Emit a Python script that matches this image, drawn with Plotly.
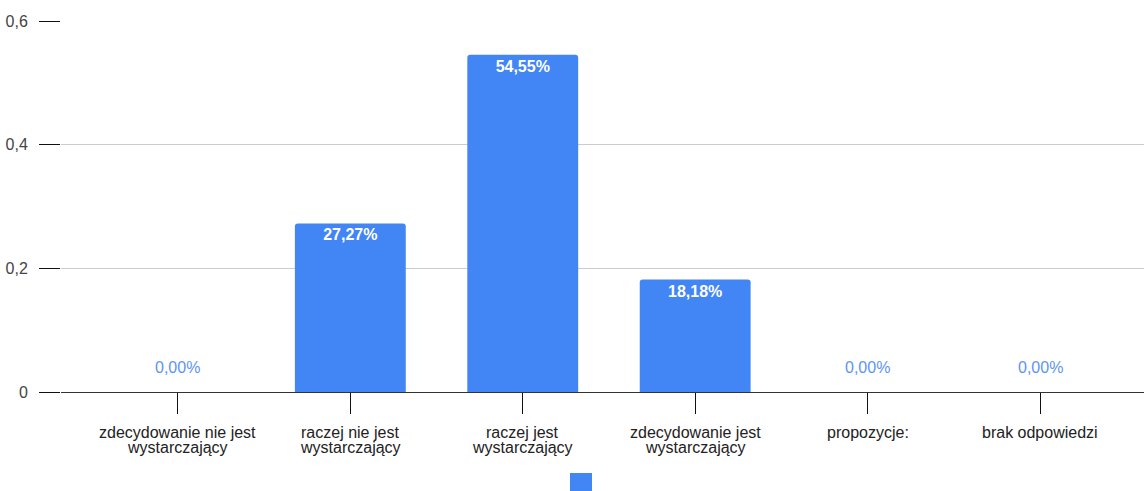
import plotly.graph_objects as go

# Survey answers and their shares
categories = [
    "zdecydowanie nie jest<br>wystarczający",
    "raczej nie jest<br>wystarczający",
    "raczej jest<br>wystarczający",
    "zdecydowanie jest<br>wystarczający",
    "propozycje:",
    "brak odpowiedzi",
]
shares = [0.0, 0.2727, 0.5455, 0.1818, 0.0, 0.0]
y_tick_values = [0, 0.2, 0.4, 0.6]
y_tick_labels = ["0", "0,2", "0,4", "0,6"]

BLUE = "#4285f4"
FONT = "Liberation Sans, Arial, sans-serif"
SIZE = 16

PLOT_TOP, PLOT_BOTTOM = 21, 392          # pixel rows of the plot area
PLOT_H = PLOT_BOTTOM - PLOT_TOP


def pct(v):
    return f"{v * 100:.2f}%".replace(".", ",")


def paper_y(px):
    return (PLOT_BOTTOM - px) / PLOT_H


x_pos = list(range(len(categories)))
inside_text = [pct(v) if v > 0 else "" for v in shares]

fig = go.Figure()
fig.add_trace(go.Bar(
    x=x_pos,
    y=shares,
    width=0.643,
    marker=dict(color=BLUE, cornerradius=3, line=dict(width=0)),
    text=inside_text,
    textposition="inside",
    insidetextanchor="end",
    textangle=0,
    insidetextfont=dict(family=FONT, size=SIZE, color="white", weight="bold"),
    showlegend=False,
    hoverinfo="skip",
))

# Labels for empty answers sit just above the baseline
for xi, v in zip(x_pos, shares):
    if v == 0:
        fig.add_annotation(
            x=xi, y=v, yshift=25, text=pct(v), showarrow=False,
            font=dict(family=FONT, size=SIZE, color="#5d94f3"),
        )

# Category names under the ticks, with tight line spacing
for xi, name in zip(x_pos, categories):
    for k, line in enumerate(name.split("<br>")):
        fig.add_annotation(
            x=xi, xref="x", y=paper_y(432 + 15 * k), yref="paper",
            text=line, showarrow=False, yanchor="middle",
            font=dict(family=FONT, size=SIZE, color="#222222"),
        )

fig.update_layout(
    width=1144, height=491,
    margin=dict(l=61, r=0, t=PLOT_TOP, b=491 - PLOT_BOTTOM),
    paper_bgcolor="white", plot_bgcolor="white",
    font=dict(family=FONT, size=SIZE, color="#222222"),
    showlegend=False,
    xaxis=dict(
        range=[-0.678, 5.603],
        tickmode="array", tickvals=x_pos, showticklabels=False,
        ticks="outside", ticklen=21, tickwidth=1.3, tickcolor="#111111",
        showline=True, linecolor="#333333", linewidth=1.3,
        showgrid=False, zeroline=False,
    ),
    yaxis=dict(
        range=[0, 0.6],
        tickmode="array", tickvals=y_tick_values, ticktext=y_tick_labels,
        ticks="outside", ticklen=21, tickwidth=1.3, tickcolor="#111111",
        showgrid=True, gridcolor="#cccccc", gridwidth=1,
        zeroline=False, showline=False,
        ticklabelstandoff=8,
        tickfont=dict(family=FONT, size=SIZE, color="#444444"),
    ),
)

# Legend swatch for the single series, centred under the plot
fig.add_shape(
    type="rect", xref="paper", yref="paper",
    x0=(570 - 61) / 1083, x1=(592 - 61) / 1083,
    y0=paper_y(473), y1=paper_y(500),
    fillcolor=BLUE, line=dict(width=0),
)

fig.write_html("out.html")
